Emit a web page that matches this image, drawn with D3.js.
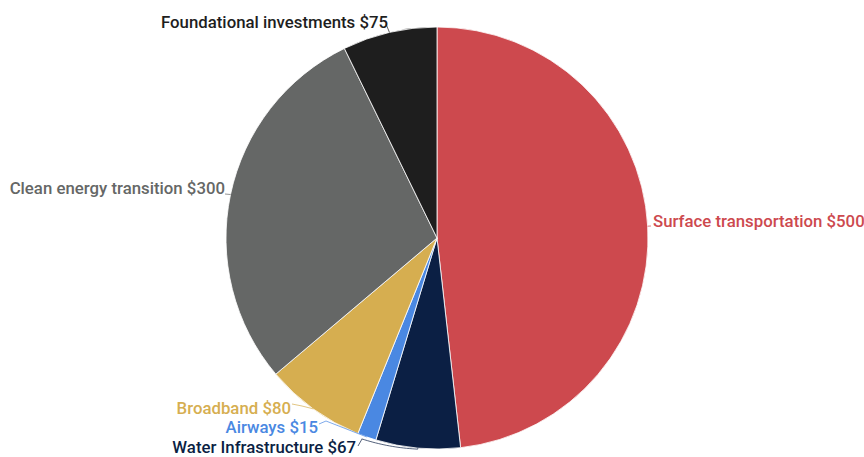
<!DOCTYPE html>
<html>
<head>
<meta charset="utf-8">
<script src="https://cdn.jsdelivr.net/npm/d3@7"></script>
<style>
  html, body { margin: 0; padding: 0; background: #ffffff; }
  svg { display: block; }
  text { font-family: Roboto, "Noto Sans", sans-serif; font-weight: 500; font-size: 16.8px; }
</style>
</head>
<body>
<svg id="chart" width="864" height="457"></svg>
<script>
// Infrastructure spending, billions of dollars
const categories = [
  "Surface transportation",
  "Water Infrastructure",
  "Airways",
  "Broadband",
  "Clean energy transition",
  "Foundational investments"
];
const values = [500, 67, 15, 80, 300, 75];
const colors = ["#cd494e", "#0b1f44", "#4a88e2", "#d6ae50", "#656766", "#1e1e1e"];

// Label placement (text anchor point, alignment) and leader bend points
const labelLayout = [
  { x: 653, y: 227, anchor: "start", leader: [[651, 226]] },
  { x: 356, y: 453, anchor: "end",   leader: [[358, 446], [362, 439]], arcTo: 200.5 },
  { x: 318, y: 433, anchor: "end",   leader: [[319, 424], [326, 421]] },
  { x: 291, y: 414, anchor: "end",   leader: [[292, 404], [302, 406]] },
  { x: 225, y: 194, anchor: "end",   leader: [[225, 194]] },
  { x: 388, y: 28,  anchor: "end",   leader: [[386, 24]] }
];

const width = 864, height = 457;
const cx = 437, cy = 238, radius = 211;

const svg = d3.select("#chart");
const g = svg.append("g").attr("transform", `translate(${cx},${cy})`);

const data = categories.map((c, i) => ({ name: c, value: values[i], color: colors[i], layout: labelLayout[i] }));

const pie = d3.pie().value(d => d.value).sort(null);
const arcs = pie(data);
const arc = d3.arc().innerRadius(0).outerRadius(radius);

g.selectAll("path.slice")
  .data(arcs)
  .join("path")
  .attr("class", "slice")
  .attr("d", arc)
  .attr("fill", d => d.data.color)
  .attr("stroke", "#ffffff")
  .attr("stroke-width", 0.8);

const toRad = deg => deg * Math.PI / 180;
const polar = (a, r) => [cx + r * Math.sin(a), cy - r * Math.cos(a)];

// Leader lines: from the slice's outer edge, optionally following the rim, to the label
arcs.forEach(d => {
  const L = d.data.layout;
  const mid = (d.startAngle + d.endAngle) / 2;
  const pts = [polar(mid, radius)];
  if (L.arcTo !== undefined) {
    const a1 = toRad(L.arcTo);
    const steps = 20;
    for (let k = 0; k <= steps; k++) {
      const a = mid + (a1 - mid) * k / steps;
      const r = radius + 1 + 2.5 * k / steps;
      pts.push(polar(a, r));
    }
  }
  const bends = L.leader.slice().reverse();
  bends.forEach(p => pts.push(p));
  svg.append("path")
    .attr("d", d3.line()(pts))
    .attr("fill", "none")
    .attr("stroke", d.data.color)
    .attr("stroke-opacity", 0.7)
    .attr("stroke-width", 1);
});

svg.selectAll("text.label")
  .data(arcs)
  .join("text")
  .attr("class", "label")
  .attr("x", d => d.data.layout.x)
  .attr("y", d => d.data.layout.y)
  .attr("text-anchor", d => d.data.layout.anchor)
  .attr("fill", d => d.data.color)
  .text(d => `${d.data.name} $${d.data.value}`);
</script>
</body>
</html>
